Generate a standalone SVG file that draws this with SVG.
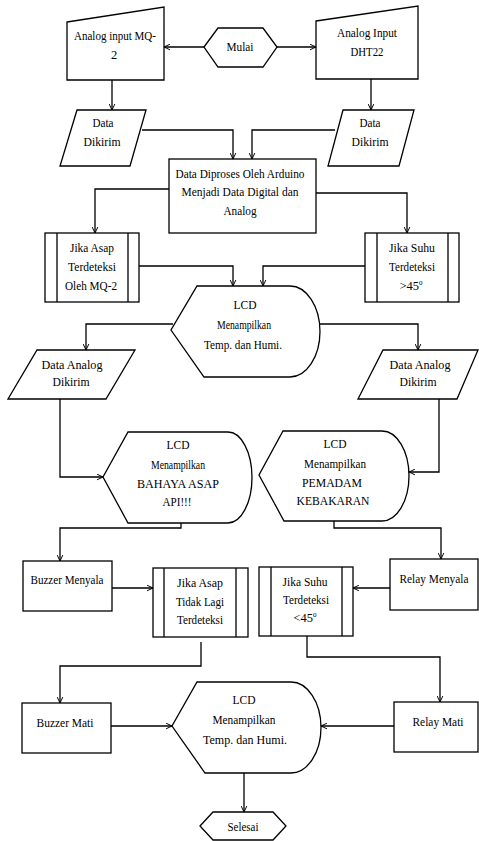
<svg xmlns="http://www.w3.org/2000/svg" width="479" height="841" viewBox="0 0 479 841" font-family="'Liberation Serif', 'Times New Roman', serif">
<defs>
<marker id="arr" viewBox="0 0 10 10" refX="9.5" refY="5" markerWidth="7" markerHeight="7" orient="auto" markerUnits="userSpaceOnUse">
<path d="M1,1 L9.5,5 L1,9" fill="none" stroke="#000" stroke-width="1.4"/>
</marker>
<style>
.s{fill:#fff;stroke:#000;stroke-width:1.3}
.l{fill:none;stroke:#000;stroke-width:1.3}
.c{fill:none;stroke:#000;stroke-width:1.3;marker-end:url(#arr)}
text{font-family:'Liberation Serif',serif;font-size:12.5px;fill:#000;text-anchor:middle}
</style>
</defs>
<rect width="479" height="841" fill="#fff"/>

<g id="connectors">
<path class="c" d="M204,47 L164,47"/>
<path class="c" d="M277,47 L316,47"/>
<path class="c" d="M112,80 L112,110"/>
<path class="c" d="M371,79 L371,110"/>
<path class="c" d="M142,130 L233,130 L233,159"/>
<path class="c" d="M335,130 L252,130 L252,159"/>
<path class="c" d="M169,189 L95,189 L95,233"/>
<path class="c" d="M316,193 L407,193 L407,233"/>
<path class="c" d="M139,266 L233,266 L233,286"/>
<path class="c" d="M365,266 L263,266 L263,286"/>
<path class="c" d="M173,324 L86,324 L86,350"/>
<path class="c" d="M319,324 L418,324 L418,350"/>
<path class="c" d="M60,399 L60,477 L103,477"/>
<path class="c" d="M439,399 L439,472 L409,472"/>
<path class="c" d="M181,523 L181,528 L60,528 L60,561"/>
<path class="c" d="M334,521 L334,528 L441,528 L441,559"/>
<path class="c" d="M112,588 L153,588"/>
<path class="c" d="M390,588 L353,588"/>
<path class="c" d="M201,642 L201,666 L60,666 L60,703"/>
<path class="c" d="M307,636 L307,657 L440,657 L440,702"/>
<path class="c" d="M111,726 L172,726"/>
<path class="c" d="M394,726 L321,726"/>
<path class="c" d="M244,773 L244,812"/>
</g>

<g id="mulai">
<polygon class="s" points="204,47 218,28 263,28 277,47 263,67 218,67"/>
<text x="240" y="51" textLength="27" lengthAdjust="spacingAndGlyphs">Mulai</text>
</g>

<g id="input-mq2">
<polygon class="s" points="67,22 164,7 164,80 67,80"/>
<text x="115" y="40" textLength="82" lengthAdjust="spacingAndGlyphs">Analog input MQ-</text>
<text x="114" y="59">2</text>
</g>

<g id="input-dht22">
<polygon class="s" points="316,21 418,6 418,79 316,79"/>
<text x="367" y="37" textLength="60" lengthAdjust="spacingAndGlyphs">Analog Input</text>
<text x="367" y="56" textLength="33" lengthAdjust="spacingAndGlyphs">DHT22</text>
</g>

<g id="data-dikirim-left">
<polygon class="s" points="77,110 146,110 130,166 60,166"/>
<text x="103" y="127" textLength="21" lengthAdjust="spacingAndGlyphs">Data</text>
<text x="102" y="146" textLength="37" lengthAdjust="spacingAndGlyphs">Dikirim</text>
</g>

<g id="data-dikirim-right">
<polygon class="s" points="343,110 414,110 399,166 328,166"/>
<text x="370" y="127" textLength="21" lengthAdjust="spacingAndGlyphs">Data</text>
<text x="370" y="146" textLength="37" lengthAdjust="spacingAndGlyphs">Dikirim</text>
</g>

<g id="proses">
<rect class="s" x="169" y="159" width="147" height="74"/>
<text x="240" y="178" textLength="129" lengthAdjust="spacingAndGlyphs">Data Diproses Oleh Arduino</text>
<text x="240" y="196" textLength="117" lengthAdjust="spacingAndGlyphs">Menjadi Data Digital dan</text>
<text x="240" y="215" textLength="33" lengthAdjust="spacingAndGlyphs">Analog</text>
</g>

<g id="jika-asap">
<rect class="s" x="45" y="233" width="94" height="69"/>
<path class="l" d="M57,233 V302 M128,233 V302"/>
<text x="92" y="252" textLength="44" lengthAdjust="spacingAndGlyphs">Jika Asap</text>
<text x="92" y="271" textLength="48" lengthAdjust="spacingAndGlyphs">Terdeteksi</text>
<text x="91" y="290" textLength="52" lengthAdjust="spacingAndGlyphs">Oleh MQ-2</text>
</g>

<g id="jika-suhu">
<rect class="s" x="365" y="233" width="94" height="69"/>
<path class="l" d="M377,233 V302 M448,233 V302"/>
<text x="412" y="252" textLength="46" lengthAdjust="spacingAndGlyphs">Jika Suhu</text>
<text x="412" y="271" textLength="46" lengthAdjust="spacingAndGlyphs">Terdeteksi</text>
<text x="411" y="290">&gt;45<tspan font-size="7" dy="-5">0</tspan></text>
</g>

<g id="lcd-1">
<path class="s" d="M197,286 L290,286 A30,45.5 0 0 1 290,377 L204,377 L171,330 Z"/>
<text x="245" y="309" textLength="23" lengthAdjust="spacingAndGlyphs">LCD</text>
<text x="244" y="329" textLength="54" lengthAdjust="spacingAndGlyphs">Menampilkan</text>
<text x="243" y="349" textLength="78" lengthAdjust="spacingAndGlyphs">Temp. dan Humi.</text>
</g>

<g id="data-analog-left">
<polygon class="s" points="37,350 135,350 106,399 8,399"/>
<text x="72" y="369" textLength="61" lengthAdjust="spacingAndGlyphs">Data  Analog</text>
<text x="71" y="386" textLength="37" lengthAdjust="spacingAndGlyphs">Dikirim</text>
</g>

<g id="data-analog-right">
<polygon class="s" points="383,350 478,350 457,399 358,399"/>
<text x="420" y="369" textLength="61" lengthAdjust="spacingAndGlyphs">Data  Analog</text>
<text x="418" y="386" textLength="37" lengthAdjust="spacingAndGlyphs">Dikirim</text>
</g>

<g id="lcd-bahaya">
<path class="s" d="M128,432 L228,432 A24,45.5 0 0 1 228,523 L128,523 L103,477 Z"/>
<text x="178" y="449" textLength="23" lengthAdjust="spacingAndGlyphs">LCD</text>
<text x="178" y="469" textLength="54" lengthAdjust="spacingAndGlyphs">Menampilkan</text>
<text x="178" y="488" textLength="82" lengthAdjust="spacingAndGlyphs">BAHAYA ASAP</text>
<text x="177" y="506" textLength="29" lengthAdjust="spacingAndGlyphs">API!!!</text>
</g>

<g id="lcd-pemadam">
<path class="s" d="M283,431 L382,431 A27,45 0 0 1 382,521 L284,521 L259,475 Z"/>
<text x="335" y="448" textLength="23" lengthAdjust="spacingAndGlyphs">LCD</text>
<text x="335" y="468" textLength="62" lengthAdjust="spacingAndGlyphs">Menampilkan</text>
<text x="332" y="487" textLength="60" lengthAdjust="spacingAndGlyphs">PEMADAM</text>
<text x="333" y="505" textLength="73" lengthAdjust="spacingAndGlyphs">KEBAKARAN</text>
</g>

<g id="buzzer-menyala">
<rect class="s" x="23" y="561" width="89" height="50"/>
<text x="67" y="584" textLength="73" lengthAdjust="spacingAndGlyphs">Buzzer Menyala</text>
</g>

<g id="jika-asap-tidak">
<rect class="s" x="153" y="568" width="95" height="69"/>
<path class="l" d="M164,568 V637 M236,568 V637"/>
<text x="200" y="587" textLength="46" lengthAdjust="spacingAndGlyphs">Jika Asap</text>
<text x="200" y="606" textLength="48" lengthAdjust="spacingAndGlyphs">Tidak Lagi</text>
<text x="200" y="624" textLength="46" lengthAdjust="spacingAndGlyphs">Terdeteksi</text>
</g>

<g id="jika-suhu-kurang">
<rect class="s" x="259" y="567" width="94" height="69"/>
<path class="l" d="M271,567 V636 M342,567 V636"/>
<text x="305" y="586" textLength="45" lengthAdjust="spacingAndGlyphs">Jika Suhu</text>
<text x="306" y="604" textLength="46" lengthAdjust="spacingAndGlyphs">Terdeteksi</text>
<text x="305" y="622">&lt;45<tspan font-size="7" dy="-5">0</tspan></text>
</g>

<g id="relay-menyala">
<rect class="s" x="390" y="559" width="88" height="51"/>
<text x="434" y="583" textLength="69" lengthAdjust="spacingAndGlyphs">Relay Menyala</text>
</g>

<g id="buzzer-mati">
<rect class="s" x="22" y="703" width="89" height="50"/>
<text x="65" y="727" textLength="57" lengthAdjust="spacingAndGlyphs">Buzzer Mati</text>
</g>

<g id="lcd-final">
<path class="s" d="M197,682 L291,682 A30,45.5 0 0 1 291,773 L205,773 L172,726 Z"/>
<text x="244" y="704" textLength="23" lengthAdjust="spacingAndGlyphs">LCD</text>
<text x="244" y="724" textLength="63" lengthAdjust="spacingAndGlyphs">Menampilkan</text>
<text x="245" y="744" textLength="84" lengthAdjust="spacingAndGlyphs">Temp. dan Humi.</text>
</g>

<g id="relay-mati">
<rect class="s" x="394" y="702" width="84" height="50"/>
<text x="438" y="726" textLength="51" lengthAdjust="spacingAndGlyphs">Relay Mati</text>
</g>

<g id="selesai">
<polygon class="s" points="200,826 213,812 273,812 286,826 273,840 213,840"/>
<text x="243" y="831" textLength="31" lengthAdjust="spacingAndGlyphs">Selesai</text>
</g>
</svg>
